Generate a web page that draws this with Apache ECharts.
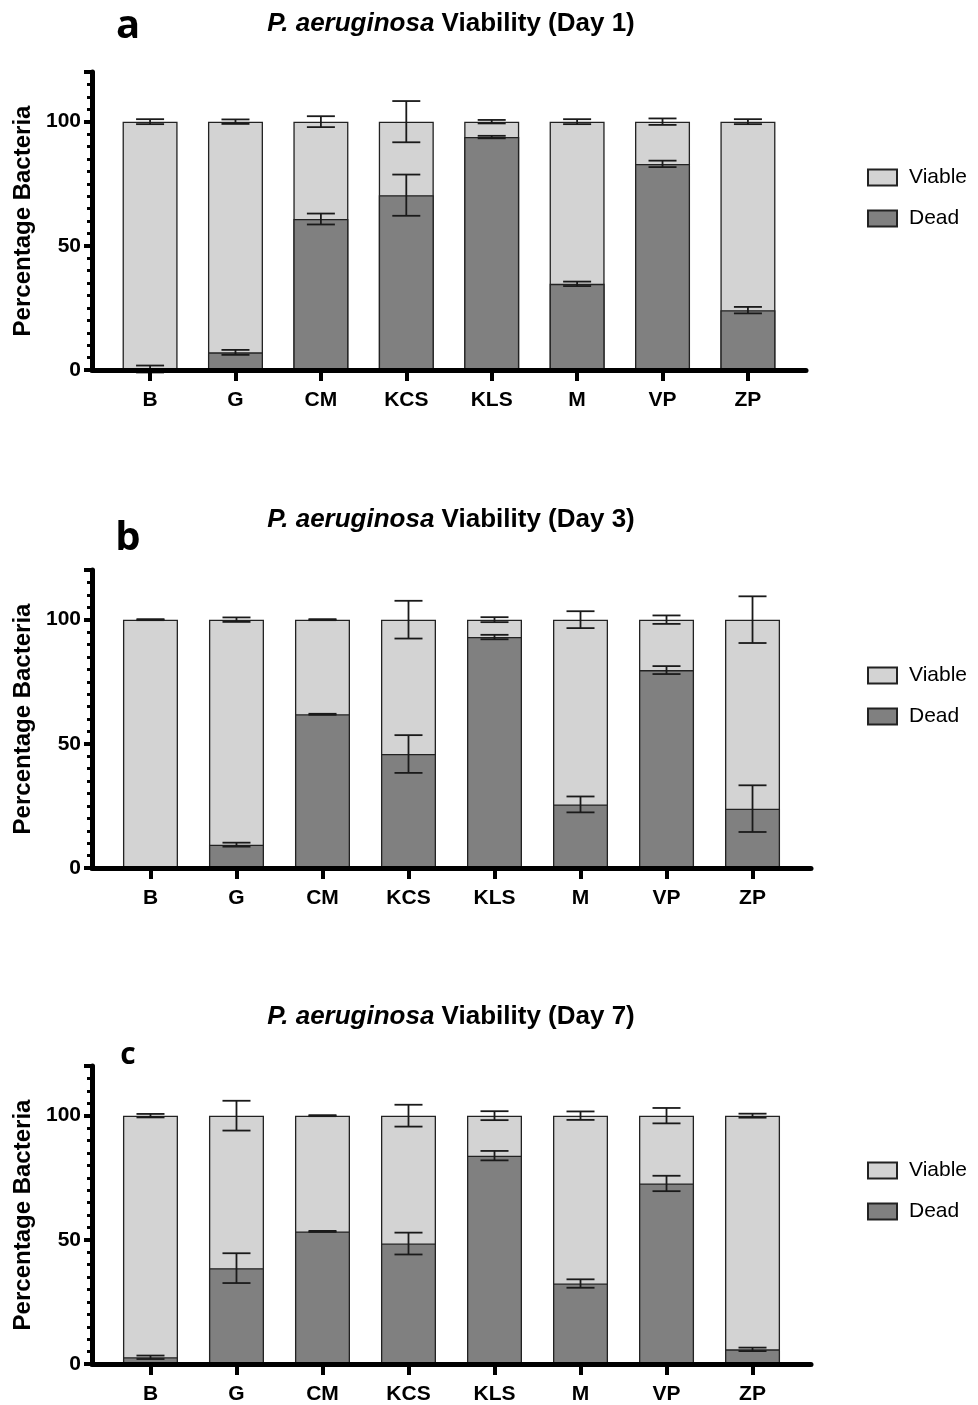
<!DOCTYPE html>
<html>
<head>
<meta charset="utf-8">
<title>P. aeruginosa Viability</title>
<script src="https://cdn.jsdelivr.net/npm/echarts@6/dist/echarts.min.js"></script>
<style>
  html, body { margin: 0; padding: 0; background: #fff; }
  #ECharts { width: 978px; height: 1405px; }
</style>
</head>
<body>
<div id="ECharts"></div>
<script>
//================ 数据 ==============================
var categories = ['B', 'G', 'CM', 'KCS', 'KLS', 'M', 'VP', 'ZP'];

// Day 1
var dead1      = [0.4, 7.1, 60.8, 70.4, 93.8, 34.7, 83.0, 24.1];
var viable1    = [99.6, 92.9, 39.2, 29.6, 6.2, 65.3, 17.0, 75.9];
var deadErr1   = [1.4, 1.0, 2.2, 8.3, 0.5, 0.9, 1.3, 1.3];
var viableErr1 = [1.0, 0.9, 2.2, 8.3, 0.7, 1.0, 1.3, 1.0];

// Day 3
var dead3      = [0.2, 9.4, 61.9, 45.9, 93.0, 25.6, 79.7, 23.9];
var viable3    = [99.8, 90.6, 38.1, 54.1, 7.0, 74.4, 20.3, 76.1];
var deadErr3   = [0.2, 0.8, 0.2, 7.6, 0.9, 3.2, 1.6, 9.4];
var viableErr3 = [0.2, 0.9, 0.2, 7.6, 1.0, 3.4, 1.7, 9.4];

// Day 7
var dead7      = [2.7, 38.6, 53.4, 48.5, 83.9, 32.4, 72.7, 5.9];
var viable7    = [97.3, 61.4, 46.6, 51.5, 16.1, 67.6, 27.3, 94.1];
var deadErr7   = [0.7, 6.0, 0.2, 4.4, 1.9, 1.7, 3.1, 0.7];
var viableErr7 = [0.7, 6.0, 0.2, 4.4, 1.8, 1.7, 3.1, 0.8];

var yTicks = [0, 50, 100];

//================ 样式 ==============================
var FONT = 'Liberation Sans';
var DEAD_COLOR = '#808080';
var VIABLE_COLOR = '#d3d3d3';
var idx = categories.map(function (c, i) { return i; });

// 每个面板的位置
var panels = [
  { letter: 'a', day: 'Day 1', dead: dead1, viable: viable1, de: deadErr1, ve: viableErr1,
    top: 72, height: 298, width: 714, titleY: 24, letterY: 27, letterSize: 40, legendTop: 162 },
  { letter: 'b', day: 'Day 3', dead: dead3, viable: viable3, de: deadErr3, ve: viableErr3,
    top: 570, height: 298, width: 719, titleY: 520, letterY: 539, letterSize: 40, legendTop: 660 },
  { letter: 'c', day: 'Day 7', dead: dead7, viable: viable7, de: deadErr7, ve: viableErr7,
    top: 1066, height: 299, width: 719, titleY: 1017, letterY: 1055, letterSize: 30, legendTop: 1155 }
];

// 误差线
function renderErr(params, api)
{
  var x = api.value(0);
  var y = api.value(1);
  var e = api.value(2);
  var hi = api.coord([x, y + e]);
  var lo = api.coord([x, y - e]);
  var half = 14;
  var st = { stroke: '#1a1a1a', lineWidth: 1.8 };
  return {
    type: 'group',
    children: [
      { type: 'line', shape: { x1: hi[0], y1: hi[1], x2: lo[0], y2: lo[1] }, style: st },
      { type: 'line', shape: { x1: hi[0] - half, y1: hi[1], x2: hi[0] + half, y2: hi[1] }, style: st },
      { type: 'line', shape: { x1: lo[0] - half, y1: lo[1], x2: lo[0] + half, y2: lo[1] }, style: st }
    ]
  };
}

var grids = [], xAxes = [], yAxes = [], series = [], legends = [], graphics = [];

panels.forEach(function (p, k)
{
  grids.push({ left: 92, top: p.top, width: p.width, height: p.height });

  xAxes.push({
    type: 'value', gridIndex: k, min: -0.68, max: 7.68, z: 5,
    splitLine: { show: false },
    axisLine: { show: true, onZero: false, lineStyle: { color: '#000', width: 5 } },
    axisTick: { show: true, customValues: idx, length: 11, lineStyle: { color: '#000', width: 4 } },
    axisLabel: {
      customValues: idx, margin: 20,
      formatter: function (v) { return categories[Math.round(v)]; },
      color: '#000', fontFamily: FONT, fontWeight: 'bold', fontSize: 21
    }
  });

  // 主刻度 + 标签
  yAxes.push({
    type: 'value', gridIndex: k, position: 'left', min: 0, max: 120, interval: 50, z: 5,
    name: 'Percentage Bacteria', nameLocation: 'middle', nameGap: 47,
    nameTextStyle: { color: '#000', fontFamily: FONT, fontWeight: 'bold', fontSize: 24 },
    splitLine: { show: false },
    axisLine: { show: true, onZero: false, lineStyle: { color: '#000', width: 5 } },
    axisTick: { show: true, length: 8, lineStyle: { color: '#000', width: 4 } },
    axisLabel: {
      margin: 11, color: '#000', fontFamily: FONT, fontWeight: 'bold', fontSize: 21,
      formatter: function (v) { return yTicks.indexOf(v) >= 0 ? String(v) : ''; }
    }
  });
  // 次刻度
  yAxes.push({
    type: 'value', gridIndex: k, position: 'left', min: 0, max: 120, interval: 5, z: 5,
    splitLine: { show: false },
    axisLine: { show: false, onZero: false },
    axisTick: { show: true, length: 5, lineStyle: { color: '#000', width: 3 } },
    axisLabel: { show: false }
  });

  // 堆叠：Viable 柱画到 dead+viable 顶端，Dead 柱覆盖在下部
  series.push({
    name: 'Viable', type: 'bar', xAxisIndex: k, yAxisIndex: 2 * k,
    barWidth: 55, barGap: '-100%',
    itemStyle: { color: VIABLE_COLOR, borderColor: '#222', borderWidth: 1.3 },
    data: p.viable.map(function (v, i) { return [i, p.dead[i] + v]; })
  });
  series.push({
    name: 'Dead', type: 'bar', xAxisIndex: k, yAxisIndex: 2 * k,
    barWidth: 55, barGap: '-100%',
    itemStyle: { color: DEAD_COLOR, borderColor: '#222', borderWidth: 1.3 },
    data: p.dead.map(function (v, i) { return [i, v]; })
  });

  var errData = [];
  for (var i = 0; i < categories.length; i++)
  {
    errData.push([i, p.dead[i], p.de[i]]);
    errData.push([i, p.dead[i] + p.viable[i], p.ve[i]]);
  }
  series.push({
    name: 'err' + k, type: 'custom', xAxisIndex: k, yAxisIndex: 2 * k, z: 4,
    renderItem: renderErr, encode: { x: 0, y: 1 }, data: errData, silent: true
  });

  legends.push({
    data: ['Viable', 'Dead'], orient: 'vertical', left: 862, top: p.legendTop,
    icon: 'rect', itemWidth: 29, itemHeight: 16, itemGap: 20, selectedMode: false,
    textStyle: { color: '#000', fontFamily: FONT, fontSize: 21, padding: [0, 0, 0, 7] }
  });

  // 标题
  graphics.push({
    type: 'text', x: 451, y: p.titleY,
    style: {
      text: '{i|P. aeruginosa }{n|Viability (' + p.day + ')}',
      align: 'center', verticalAlign: 'middle',
      rich: {
        i: { fontFamily: FONT, fontWeight: 'bold', fontStyle: 'italic', fontSize: 26, fill: '#000' },
        n: { fontFamily: FONT, fontWeight: 'bold', fontSize: 26, fill: '#000' }
      }
    }
  });
  // 字母
  graphics.push({
    type: 'text', x: 128, y: p.letterY,
    style: {
      text: p.letter, align: 'center', verticalAlign: 'middle',
      fontFamily: 'Open Sans', fontWeight: 'bold', fontSize: p.letterSize, fill: '#000'
    }
  });
});

var myChart = echarts.init(document.getElementById('ECharts'));
myChart.setOption({
  animation: false,
  backgroundColor: '#fff',
  grid: grids,
  xAxis: xAxes,
  yAxis: yAxes,
  legend: legends,
  graphic: graphics,
  series: series
});
</script>
</body>
</html>
